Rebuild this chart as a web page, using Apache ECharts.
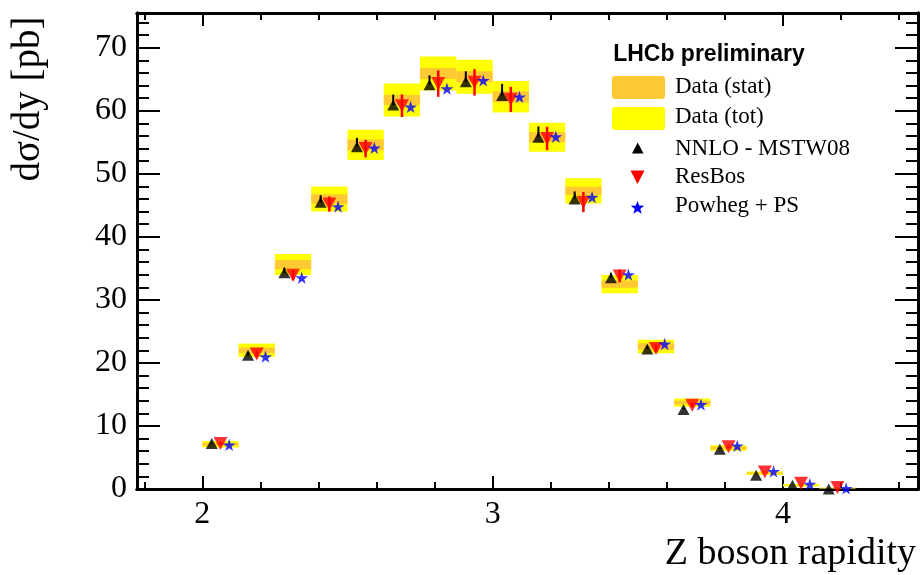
<!DOCTYPE html>
<html>
<head>
<meta charset="utf-8">
<script src="https://cdn.jsdelivr.net/npm/echarts@6/dist/echarts.min.js"></script>
<style>
  html, body { margin: 0; padding: 0; background: #fff; }
  #main { width: 921px; height: 575px; }
</style>
</head>
<body>
<div id="main"></div>
<script>
// bin edges in Z rapidity
var binEdges = [2.0, 2.125, 2.25, 2.375, 2.5, 2.625, 2.75, 2.875, 3.0, 3.125, 3.25, 3.375, 3.5, 3.625, 3.75, 3.875, 4.0, 4.125, 4.25];

// measured cross section, stat and total uncertainty (box half heights)
var dataVal  = [7.1, 22.0, 35.6, 46.0, 54.6, 61.7, 65.9, 65.4, 62.2, 55.8, 47.3, 32.5, 22.6, 13.7, 6.5, 2.5, 0.6, 0.15];
var dataStat = [0.2, 0.45, 0.74, 0.74, 0.85, 0.8, 0.87, 0.87, 0.87, 0.8, 0.65, 0.58, 0.5, 0.3, 0.2, 0.1, 0.05, 0.03];
var dataTot  = [0.5, 1.06, 1.66, 2.0, 2.4, 2.6, 2.7, 2.7, 2.5, 2.3, 2.0, 1.45, 1.06, 0.66, 0.45, 0.26, 0.2, 0.06];

// predictions
var nnlo      = [7.2, 21.2, 34.3, 45.5, 54.3, 60.9, 64.1, 64.6, 62.4, 55.8, 46.0, 33.5, 22.2, 12.6, 6.3, 2.2, 0.6, 0.0];
var nnloErrUp = [0.15, 0.5, 0.8, 1.1, 1.4, 1.66, 1.5, 1.66, 1.85, 1.7, 1.2, 0.8, 0.5, 0.3, 0.15, 0.05, 0.02, 0.0];
var resbos    = [7.2, 21.4, 33.9, 45.2, 54.0, 60.8, 64.3, 64.5, 61.8, 55.6, 45.5, 33.8, 22.3, 13.3, 6.7, 2.7, 0.9, 0.24];
var resbosErr = [0.2, 0.5, 0.8, 1.2, 1.4, 1.8, 2.1, 2.1, 2.0, 1.85, 1.6, 1.0, 0.6, 0.35, 0.2, 0.08, 0.03, 0.01];
var powheg    = [7.0, 21.0, 33.5, 44.8, 54.1, 60.6, 63.5, 64.8, 62.2, 55.9, 46.3, 34.0, 23.0, 13.4, 6.85, 2.8, 0.76, 0.1];

// axis ticks
var xMajorTicks = [2, 3, 4];
var xMinorTicks = [1.8, 2.0, 2.2, 2.4, 2.6, 2.8, 3.0, 3.2, 3.4, 3.6, 3.8, 4.0, 4.2, 4.4];
var yMajorTicks = [0, 10, 20, 30, 40, 50, 60, 70];
var yMinorTicks = [0, 2, 4, 6, 8, 10, 12, 14, 16, 18, 20, 22, 24, 26, 28, 30, 32, 34, 36, 38,
                   40, 42, 44, 46, 48, 50, 52, 54, 56, 58, 60, 62, 64, 66, 68, 70, 72, 74];

var X_MIN = 1.775, X_MAX = 4.465, Y_MIN = 0, Y_MAX = 75.5;
var SHIFT = 0.03; // horizontal spread of the three predictions inside a bin

var SERIF = '"Liberation Serif", "Times New Roman", serif';
var STAR = 'path://M50,0 L61,35 L98,35 L68,57 L79,91 L50,70 L21,91 L32,57 L2,35 L39,35 Z';

function centre(i) { return (binEdges[i] + binEdges[i + 1]) / 2; }

var boxTot = [], boxStat = [], nnloPts = [], nnloBars = [], resPts = [], resBars = [], powPts = [];
for (var i = 0; i < dataVal.length; i++) {
  boxTot.push([binEdges[i], binEdges[i + 1], dataVal[i], dataTot[i]]);
  boxStat.push([binEdges[i], binEdges[i + 1], dataVal[i], dataStat[i]]);
  nnloPts.push([centre(i) - SHIFT, nnlo[i]]);
  nnloBars.push([centre(i) - SHIFT, nnlo[i], nnlo[i] + nnloErrUp[i]]);
  resPts.push([centre(i), resbos[i]]);
  resBars.push([centre(i), resbos[i] - resbosErr[i], resbos[i] + resbosErr[i]]);
  powPts.push([centre(i) + SHIFT, powheg[i]]);
}

function boxSeries(data, colour) {
  return {
    type: 'custom', data: data, xAxisIndex: 0, yAxisIndex: 0, silent: true,
    renderItem: function (params, api) {
      var e = api.value(3), v = api.value(2);
      var p1 = api.coord([api.value(0), v + e]);
      var p2 = api.coord([api.value(1), v - e]);
      return { type: 'rect', shape: { x: p1[0], y: p1[1], width: p2[0] - p1[0], height: p2[1] - p1[1] },
               style: { fill: colour } };
    }
  };
}

function barSeries(data, colour, w) {
  return {
    type: 'custom', data: data, xAxisIndex: 0, yAxisIndex: 0, silent: true,
    renderItem: function (params, api) {
      var a = api.coord([api.value(0), api.value(1)]);
      var b = api.coord([api.value(0), api.value(2)]);
      return { type: 'line', shape: { x1: a[0], y1: a[1], x2: b[0], y2: b[1] },
               style: { stroke: colour, lineWidth: w } };
    }
  };
}

function xAx(pos, ticks, len, withLabels) {
  return {
    type: 'value', position: pos, min: X_MIN, max: X_MAX, gridIndex: 0,
    axisLine: { show: true, onZero: false, lineStyle: { color: '#000', width: 3 } },
    axisTick: { show: true, inside: true, length: len, customValues: ticks, lineStyle: { color: '#000', width: 2 } },
    axisLabel: withLabels ? { show: true, customValues: xMajorTicks, margin: 10, color: '#000',
                              fontFamily: SERIF, fontSize: 32, formatter: function (v) { return String(v); } }
                          : { show: false },
    splitLine: { show: false }
  };
}

function yAx(pos, ticks, len, withLabels) {
  return {
    type: 'value', position: pos, min: Y_MIN, max: Y_MAX, gridIndex: 0,
    axisLine: { show: true, onZero: false, lineStyle: { color: '#000', width: 3 } },
    axisTick: { show: true, inside: true, length: len, customValues: ticks, lineStyle: { color: '#000', width: 2 } },
    axisLabel: withLabels ? { show: true, customValues: yMajorTicks, margin: 10, color: '#000',
                              fontFamily: SERIF, fontSize: 32, formatter: function (v) { return String(v); } }
                          : { show: false },
    splitLine: { show: false }
  };
}

function starPts(cx, cy, R) {
  var pts = [];
  for (var k = 0; k < 10; k++) {
    var r = k % 2 ? R * 0.42 : R;
    var a = -Math.PI / 2 + k * Math.PI / 5;
    pts.push([cx + r * Math.cos(a), cy + r * Math.sin(a)]);
  }
  return pts;
}

var legendFont = '23px ' + SERIF;
var graphics = [
  { type: 'text', x: 29, y: 99, rotation: Math.PI / 2,
    style: { text: 'dσ/dy [pb]', font: '39px ' + SERIF, fill: '#000', align: 'center', verticalAlign: 'middle' } },
  { type: 'text', x: 916, y: 554,
    style: { text: 'Z boson rapidity', font: '38px ' + SERIF, fill: '#000', align: 'right', verticalAlign: 'middle' } },
  { type: 'text', x: 709, y: 55,
    style: { text: 'LHCb preliminary', font: 'bold 23px "Liberation Sans", Arial, sans-serif', fill: '#000', align: 'center', verticalAlign: 'middle' } },
  { type: 'rect', shape: { x: 612, y: 76, width: 53, height: 23, r: 3 }, style: { fill: '#FFC933' } },
  { type: 'rect', shape: { x: 612, y: 107, width: 53, height: 23, r: 3 }, style: { fill: '#FFFF00' } },
  { type: 'text', x: 675, y: 87, style: { text: 'Data (stat)', font: legendFont, fill: '#000', verticalAlign: 'middle' } },
  { type: 'text', x: 675, y: 117, style: { text: 'Data (tot)', font: legendFont, fill: '#000', verticalAlign: 'middle' } },
  { type: 'polygon', shape: { points: [[632, 153.5], [643.5, 153.5], [637.7, 142.5]] }, style: { fill: '#000' } },
  { type: 'text', x: 675, y: 149, style: { text: 'NNLO - MSTW08', font: legendFont, fill: '#000', verticalAlign: 'middle' } },
  { type: 'polygon', shape: { points: [[630.5, 170.5], [644.5, 170.5], [637.5, 184]] }, style: { fill: '#FF0000' } },
  { type: 'text', x: 675, y: 177, style: { text: 'ResBos', font: legendFont, fill: '#000', verticalAlign: 'middle' } },
  { type: 'polygon', shape: { points: starPts(637.5, 208, 7) }, style: { fill: '#0000FF' } },
  { type: 'text', x: 675, y: 206, style: { text: 'Powheg + PS', font: legendFont, fill: '#000', verticalAlign: 'middle' } }
];

var chart = echarts.init(document.getElementById('main'), null, { renderer: 'canvas' });
chart.setOption({
  backgroundColor: '#fff',
  animation: false,
  grid: { left: 137, right: 3, top: 13, bottom: 86, containLabel: false },
  xAxis: [
    xAx('bottom', xMajorTicks, 13, true),
    xAx('bottom', xMinorTicks, 7, false),
    xAx('top', xMajorTicks, 13, false),
    xAx('top', xMinorTicks, 7, false)
  ],
  yAxis: [
    yAx('left', yMajorTicks, 23, true),
    yAx('left', yMinorTicks, 12, false),
    yAx('right', yMajorTicks, 23, false),
    yAx('right', yMinorTicks, 12, false)
  ],
  series: [
    boxSeries(boxTot, '#FFFF00'),
    boxSeries(boxStat, '#FFC933'),
    barSeries(nnloBars, '#000', 2),
    { type: 'scatter', data: nnloPts, symbol: 'triangle', symbolSize: [12, 11], clip: false,
      itemStyle: { color: '#000' }, silent: true },
    barSeries(resBars, '#FF0000', 2.5),
    { type: 'scatter', data: resPts, symbol: 'triangle', symbolRotate: 180, symbolSize: [14, 13], clip: false,
      itemStyle: { color: '#FF0000' }, silent: true },
    { type: 'scatter', data: powPts, symbol: STAR, symbolKeepAspect: true, symbolSize: 13, clip: false,
      itemStyle: { color: '#0000FF' }, silent: true }
  ],
  graphic: graphics
});
</script>
</body>
</html>
